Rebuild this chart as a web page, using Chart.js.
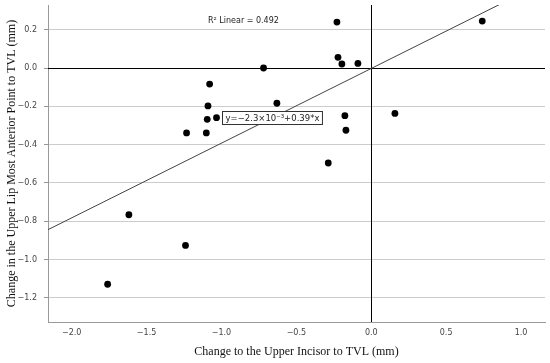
<!DOCTYPE html>
<html>
<head>
<meta charset="utf-8">
<script src="https://cdn.jsdelivr.net/npm/chart.js@4/dist/chart.umd.min.js"></script>
<style>
html,body{margin:0;padding:0;background:#fff;}
#wrap{width:550px;height:363px;position:relative;}
</style>
</head>
<body>
<div id="wrap"><canvas id="c" width="550" height="363"></canvas></div>
<script>
// Data
const xValues = [-0.719, -1.079, -1.090, -1.095, -1.033, -1.233, -1.101, -0.630,
                 -0.229, -0.222, -0.196, -0.089, 0.741, -0.176, -0.169, 0.158,
                 -0.287, -1.618, -1.240, -1.760];
const yValues = [0.000, -0.084, -0.198, -0.268, -0.259, -0.339, -0.339, -0.184,
                 0.240, 0.056, 0.021, 0.024, 0.245, -0.249, -0.325, -0.237,
                 -0.496, -0.766, -0.926, -1.129];
const xTicks = [-2.0, -1.5, -1.0, -0.5, 0.0, 0.5, 1.0];
const yTicks = [-1.2, -1.0, -0.8, -0.6, -0.4, -0.2, 0.0, 0.2];
const xRange = [-2.158, 1.16];
const yRange = [-1.326, 0.329];
const fitIntercept = -0.0023;
const fitSlope = 0.39;
const r2Label = "R² Linear = 0.492";
const eqLabel = "y=−2.3×10⁻³+0.39*x";
const xTitle = "Change to the Upper Incisor to TVL (mm)";
const yTitle = "Change in the Upper Lip Most Anterior Point to TVL (mm)";

const points = xValues.map((x, i) => ({x: x, y: yValues[i]}));
const fitLine = xRange.map(x => ({x: x, y: fitIntercept + fitSlope * x}));

const fmt = v => { const s = Math.abs(v).toFixed(1); return v < -1e-9 ? "\u2212" + s : s; };

const refLines = {
  id: 'refLines',
  beforeDatasetsDraw(chart) {
    const {ctx, chartArea: a, scales: {x, y}} = chart;
    ctx.save();
    ctx.strokeStyle = '#000';
    ctx.lineWidth = 1;
    const py = Math.round(y.getPixelForValue(0)) + 0.5;
    const px = Math.round(x.getPixelForValue(0)) + 0.5;
    ctx.beginPath();
    ctx.moveTo(a.left, py); ctx.lineTo(a.right, py);
    ctx.moveTo(px, a.top); ctx.lineTo(px, a.bottom);
    ctx.stroke();
    ctx.restore();
  },
  afterDatasetsDraw(chart) {
    const {ctx} = chart;
    ctx.save();
    ctx.fillStyle = '#222';
    ctx.font = '8px "DejaVu Sans"';
    ctx.textBaseline = 'middle';
    ctx.textAlign = 'left';
    ctx.fillText(r2Label, 208, 21);
    // equation box
    ctx.font = '8.5px "DejaVu Sans"';
    const w = ctx.measureText(eqLabel).width;
    const bx = 222.5, by = 111.5, bw = w + 6, bh = 13;
    ctx.fillStyle = '#fff';
    ctx.fillRect(bx, by, bw, bh);
    ctx.strokeStyle = '#333';
    ctx.lineWidth = 1;
    ctx.strokeRect(bx, by, bw, bh);
    ctx.fillStyle = '#222';
    ctx.fillText(eqLabel, bx + 3, by + bh / 2 + 0.5);
    ctx.restore();
  }
};

new Chart(document.getElementById('c'), {
  data: {
    datasets: [
      {
        type: 'scatter',
        data: points,
        backgroundColor: '#000',
        borderColor: '#000',
        pointRadius: 3.4,
        pointHoverRadius: 3.4,
        borderWidth: 0
      },
      {
        type: 'line',
        data: fitLine,
        borderColor: '#444',
        borderWidth: 1,
        pointRadius: 0,
        fill: false,
        tension: 0
      }
    ]
  },
  options: {
    responsive: false,
    animation: false,
    events: [],
    layout: {padding: {top: 5, right: 5, left: 0, bottom: 0}},
    plugins: {legend: {display: false}, tooltip: {enabled: false}},
    scales: {
      x: {
        type: 'linear',
        min: xRange[0], max: xRange[1],
        afterBuildTicks(s) { s.ticks = xTicks.map(v => ({value: v})); },
        afterFit(s) { s.height = 41; s.paddingLeft = 0; s.paddingRight = 0; },
        grid: {drawOnChartArea: false, drawTicks: false},
        border: {color: '#999', width: 1},
        ticks: {padding: 6, color: '#444', font: {family: 'DejaVu Sans', size: 8}, callback: v => fmt(v), maxRotation: 0, autoSkip: false},
        title: {display: true, text: xTitle, color: '#111', font: {family: 'Liberation Serif', size: 12}, padding: {top: 0, bottom: 4}}
      },
      y: {
        type: 'linear',
        min: yRange[0], max: yRange[1],
        afterBuildTicks(s) { s.ticks = yTicks.map(v => ({value: v})); },
        afterFit(s) { s.width = 48; s.paddingTop = 0; s.paddingBottom = 0; },
        grid: {color: '#ccc', lineWidth: 1, tickLength: 4, tickColor: '#999'},
        border: {color: '#999', width: 1},
        ticks: {padding: 7, color: '#444', font: {family: 'DejaVu Sans', size: 8}, callback: v => fmt(v), autoSkip: false},
        title: {display: true, text: yTitle, color: '#111', font: {family: 'Liberation Serif', size: 12}, padding: {top: 5, bottom: 0}}
      }
    }
  },
  plugins: [refLines]
});
</script>
</body>
</html>
